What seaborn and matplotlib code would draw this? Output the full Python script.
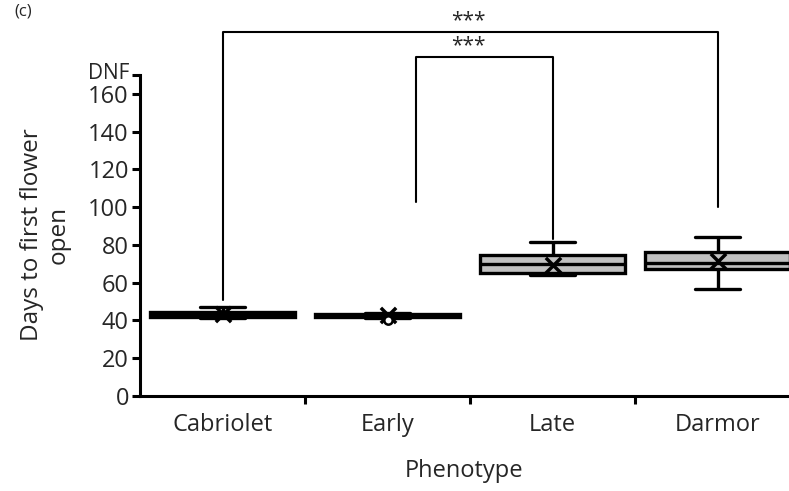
import pandas as pd
import seaborn as sns
import matplotlib.pyplot as plt
import matplotlib.transforms as mtransforms

phenotypes = ['Cabriolet', 'Early', 'Late', 'Darmor']

# five values per group: low whisker, q1, median, q3, high whisker
cabriolet_days = [41.5, 42.0, 43.0, 44.5, 47.0]
early_days = [41.5, 41.8, 42.5, 43.5, 44.0]
late_days = [64.0, 65.2, 70.0, 74.7, 81.6]
darmor_days = [56.7, 67.3, 70.5, 76.3, 84.0]
mean_days = [43.5, 43.0, 69.5, 71.5]
outlier_phenotype = ['Early']
outlier_days = [40.0]

y_ticks = [0, 20, 40, 60, 80, 100, 120, 140, 160, 170]
y_tick_labels = ['0', '20', '40', '60', '80', '100', '120', '140', '160', 'DNF']

# significance brackets: left x, right x, left leg bottom, right leg bottom, top
bracket_left = [0.0, 1.17]
bracket_right = [3.0, 2.0]
bracket_left_low = [51, 103]
bracket_right_low = [100, 83]
bracket_top = [192.8, 179.6]
bracket_text = ['***', '***']

df = pd.DataFrame({
    'Phenotype': [p for p in phenotypes for _ in range(5)],
    'Days': cabriolet_days + early_days + late_days + darmor_days,
})

sns.set_theme(style='white')
plt.rcParams['font.family'] = ['Open Sans', 'DejaVu Sans']

fig = plt.figure(figsize=(7.89, 4.91), dpi=100)
ax = fig.add_axes([140 / 789, 1 - 396 / 491, 1 - 140 / 789, (396 - 75) / 491])

sns.boxplot(data=df, x='Phenotype', y='Days', order=phenotypes, ax=ax,
            whis=(0, 100), width=0.88, color='#c0c0c0', saturation=1,
            linecolor='black', linewidth=2.4, showfliers=False, capwidths=0.27)

sns.stripplot(x=phenotypes, y=mean_days, order=phenotypes, ax=ax, jitter=False,
              marker='x', color='black', size=11, linewidth=2.5)
sns.stripplot(x=outlier_phenotype, y=outlier_days, order=phenotypes, ax=ax,
              jitter=False, marker='o', color='white', edgecolor='black',
              size=6, linewidth=1.8)

for i in range(len(bracket_top)):
    ax.plot([bracket_left[i], bracket_left[i], bracket_right[i], bracket_right[i]],
            [bracket_left_low[i], bracket_top[i], bracket_top[i], bracket_right_low[i]],
            color='black', lw=1.5, clip_on=False)
    ax.text(1.49, bracket_top[i] + 0.5, bracket_text[i], ha='center', va='bottom',
            fontsize=15, clip_on=False)

ax.set_ylim(0, 170)
ax.set_xlim(-0.5, 3.433)
ax.set_yticks(y_ticks)
ax.set_yticklabels(y_tick_labels)
ax.set_xticks([0.5, 1.5, 2.5])
ax.set_xticklabels([])
ax.set_xticks(range(len(phenotypes)), minor=True)
ax.set_xticklabels(phenotypes, minor=True)
ax.tick_params(axis='x', which='major', length=6, width=2.2, direction='out',
               bottom=True, color='black')
ax.tick_params(axis='x', which='minor', length=0, pad=12, labelsize=17)
ax.tick_params(axis='y', length=6, width=2.2, direction='out', left=True,
               color='black', labelsize=17, pad=2)

# DNF label sits a little above its tick so it clears the 160 label
dnf = ax.get_yticklabels()[-1]
dnf.set_fontsize(15)
dnf.set_transform(dnf.get_transform() +
                  mtransforms.ScaledTranslation(0, 3 / 72, fig.dpi_scale_trans))

for s in ['left', 'bottom']:
    ax.spines[s].set_linewidth(2.2)
    ax.spines[s].set_color('black')
sns.despine(ax=ax)

ax.set_xlabel('Phenotype', fontsize=17, labelpad=16)
ax.set_ylabel('')
fig.text(45 / 789, 1 - 235 / 491, 'Days to first flower\nopen', rotation=90,
         ha='center', va='center', multialignment='center', fontsize=17.5,
         linespacing=1.15)
fig.text(14 / 789, 1 - 12 / 491, '(c)', ha='left', va='center', fontsize=12)

fig.savefig('out.png', dpi=100)
